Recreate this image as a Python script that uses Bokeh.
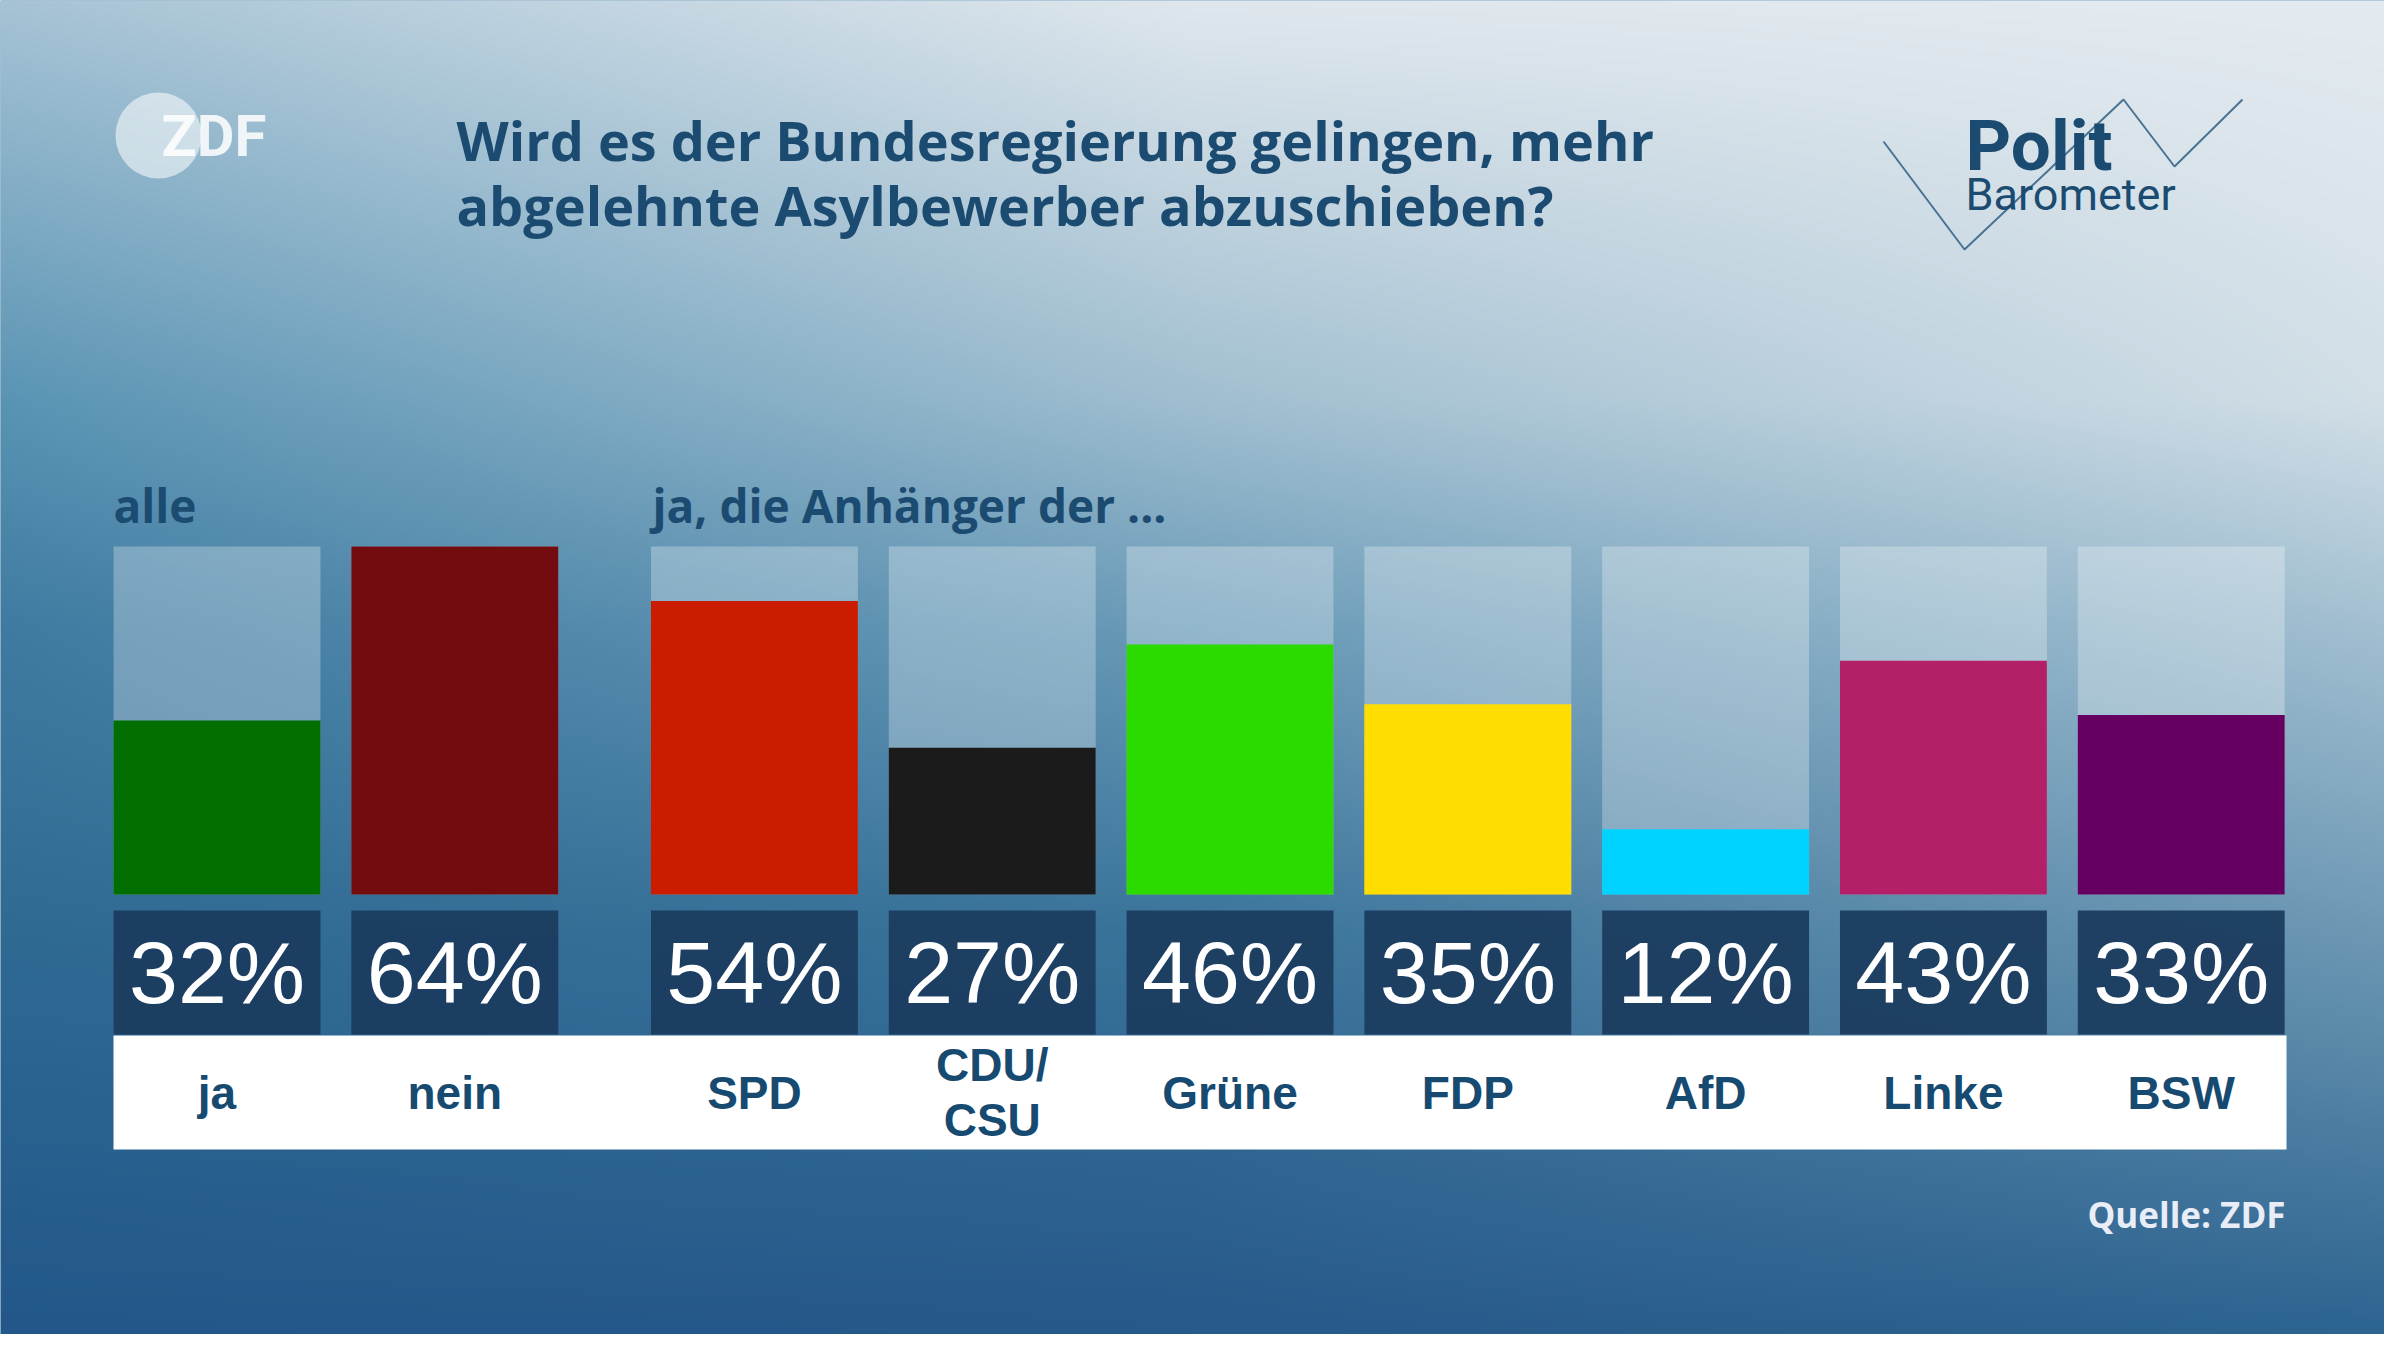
import numpy as np
from bokeh.plotting import figure
from bokeh.models import Range1d, ColumnDataSource
from bokeh.core.properties import value
from bokeh.embed import file_html
from bokeh.resources import INLINE

# ---------------- data ----------------
title_text = "Wird es der Bundesregierung gelingen, mehr\nabgelehnte Asylbewerber abzuschieben?"
groups = ["alle", "alle", "partei", "partei", "partei", "partei", "partei", "partei", "partei"]
categories = ["ja", "nein", "SPD", "CDU/CSU", "Grüne", "FDP", "AfD", "Linke", "BSW"]
percent = [32, 64, 54, 27, 46, 35, 12, 43, 33]
bar_colors = ["#006f00", "#730c0e", "#cc1c00", "#1b1b1b", "#2bdb00",
              "#ffdd00", "#00d3ff", "#b42067", "#650060"]
group_titles = ["alle", "ja, die Anhänger der ..."]
source_note = "Quelle: ZDF"
logo_text = "ZDF"
brand_top = "Polit"
brand_bottom = "Barometer"

# ---------------- layout ----------------
W, H = 2384, 1334
BAR_BASE_PX = 894
BAR_TOP_PX = 546
scale_max = max(percent)
px_per_pct = (BAR_BASE_PX - BAR_TOP_PX) / scale_max
pct_lo = (BAR_BASE_PX - H) / px_per_pct
pct_hi = BAR_BASE_PX / px_per_pct

SLOT_PX = 237.8        # pixels per category slot
FIRST_CENTER_PX = 216.5
GROUP_GAP = 0.26       # extra slot gap between groups
slot_lo = -FIRST_CENTER_PX / SLOT_PX
slot_hi = slot_lo + W / SLOT_PX

group_order = list(dict.fromkeys(groups))
slot_pos = [i + GROUP_GAP * group_order.index(g) for i, g in enumerate(groups)]

p = figure(width=W, height=H, output_backend="svg", toolbar_location=None,
           x_range=Range1d(0, W), y_range=Range1d(H, 0),
           x_axis_location=None, y_axis_location=None, min_border=0,
           background_fill_color="#4a82a6", border_fill_color="#4a82a6")
p.grid.visible = False
p.outline_line_color = None

p.extra_x_ranges = {"slot": Range1d(slot_lo, slot_hi), "bgx": Range1d(0, 1)}
p.extra_y_ranges = {"pct": Range1d(pct_lo, pct_hi), "bgy": Range1d(0, 1)}

# ---------------- background gradient ----------------
def hex2rgb(h):
    return [int(h[i:i + 2], 16) for i in (1, 3, 5)]

vs = [0.0, 0.30, 0.47, 0.70, 1.0]
us = [0.0, 0.5, 1.0]
grid = [
    ["#a6c3d5", "#dfe7ed", "#e4ebf0"],
    ["#5a94b4", "#a0bed0", "#d2dfe7"],
    ["#3f7ba1", "#6a9bb8", "#a2bfd1"],
    ["#2f6a93", "#3a739a", "#6d98b4"],
    ["#23578a", "#27598a", "#2d6490"],
]
G = np.array([[hex2rgb(c) for c in row] for row in grid], dtype=float)
nx, ny = 600, 334
u = np.linspace(0, 1, nx)
v = np.linspace(0, 1, ny)
rgb = np.zeros((ny, nx, 3))
for c in range(3):
    knots = np.stack([np.interp(v, vs, G[:, j, c]) for j in range(len(us))], axis=1)
    for yi in range(ny):
        rgb[yi, :, c] = np.interp(u, us, knots[yi])
img = np.empty((ny, nx), dtype=np.uint32)
view = img.view(dtype=np.uint8).reshape((ny, nx, 4))
view[:, :, :3] = np.clip(rgb, 0, 255).astype(np.uint8)
view[:, :, 3] = 255
img = img[::-1].copy()
p.image_rgba(image=[img], x=0, y=0, dw=1, dh=1, x_range_name="bgx", y_range_name="bgy")

# ---------------- bars ----------------
src = ColumnDataSource(dict(
    x=slot_pos,
    cat=categories,
    pct=percent,
    color=bar_colors,
    val=[f"{v_}%" for v_ in percent],
    label=[c.replace("/", "/\n") for c in categories],
))
BW = 0.87
p.vbar(x="x", top=scale_max, bottom=0, width=BW, source=src, fill_color="white",
       fill_alpha=0.28, line_color=None, x_range_name="slot", y_range_name="pct")
p.vbar(x="x", top="pct", bottom=0, width=BW, source=src, fill_color="color",
       line_color=None, x_range_name="slot", y_range_name="pct")

# value boxes
p.vbar(x="x", top=910, bottom=1034, width=BW, source=src, fill_color="#1b3c5f",
       fill_alpha=0.95, line_color=None, x_range_name="slot")
p.text(x="x", y=972, text="val", source=src, x_range_name="slot",
       text_align="center", text_baseline="middle",
       text_font=value("Liberation Sans"), text_font_size="88px", text_color="white")

# white label band
p.quad(left=113, right=2286, top=1035, bottom=1149, fill_color="white", line_color=None)
p.text(x="x", y=1092, text="label", source=src, x_range_name="slot",
       text_align="center", text_baseline="middle", text_line_height=1.06,
       text_font=value("Liberation Sans"), text_font_style="bold",
       text_font_size="46px", text_color="#174a70")

# group titles
p.text(x=[113, 652], y=[504, 504], text=group_titles, text_align="left",
       text_baseline="middle", text_font=value("Open Sans"), text_font_style="bold",
       text_font_size="46px", text_color="#1b4b70")

# title
title_lines = title_text.split("\n")
p.text(x=[456] * len(title_lines), y=[139 + 65 * i for i in range(len(title_lines))],
       text=title_lines, text_align="left", text_baseline="middle",
       text_font=value("Open Sans"), text_font_style="bold", text_font_size="54px",
       text_color="#1b4b70")

# ZDF logo
p.circle(x=[158], y=[135], radius=43, fill_color="white", fill_alpha=0.55, line_color=None)
p.text(x=[161], y=[135], text=[logo_text], text_align="left", text_baseline="middle",
       text_font=value("Roboto"), text_font_style="bold", text_font_size="58px",
       text_color="white", text_alpha=0.85)

# Polit Barometer logo
p.line(x=[1883, 1964, 2123, 2174, 2242], y=[141, 249, 99, 166, 99],
       line_color="#4a7292", line_width=2)
p.text(x=[1965], y=[145], text=[brand_top], text_align="left", text_baseline="middle",
       text_font=value("Roboto"), text_font_style="bold", text_font_size="71px",
       text_color="#1b4b70")
p.text(x=[1965], y=[194], text=[brand_bottom], text_align="left", text_baseline="middle",
       text_font=value("Roboto"), text_font_size="45px", text_color="#1b4b70")

# source
p.text(x=[2285], y=[1214], text=[source_note], text_align="right", text_baseline="middle",
       text_font=value("Open Sans"), text_font_style="bold", text_font_size="35px",
       text_color="#e8edf7")

open("out.html", "w").write(file_html(p, INLINE))
